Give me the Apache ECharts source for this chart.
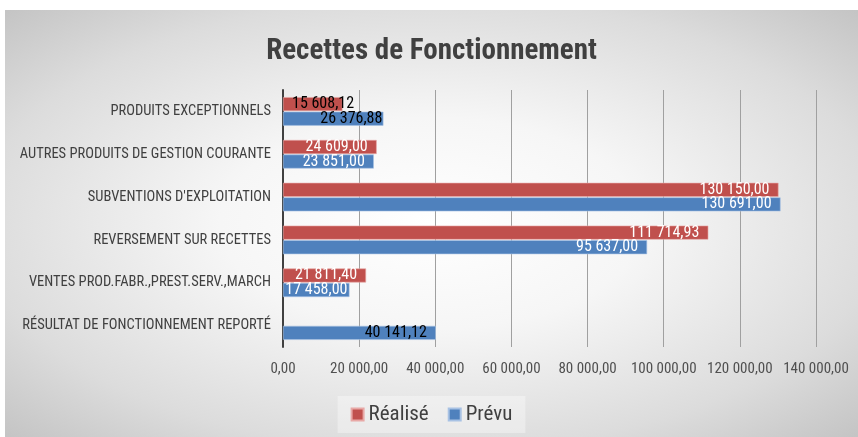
<!DOCTYPE html>
<html>
<head>
<meta charset="utf-8">
<script src="https://cdn.jsdelivr.net/npm/echarts@6/dist/echarts.min.js"></script>
<style>
  html, body { margin: 0; padding: 0; background: #fff; }
  #chart {
    position: absolute;
    left: 5px;
    top: 10px;
    width: 853px;
    height: 427px;
    background: radial-gradient(ellipse at 50% 50%, #ffffff 0%, #f6f6f6 35%, #dcdcdc 75%, #c4c4c4 100%);
  }
</style>
</head>
<body>
<div id="chart"></div>
<script>
// categories, top to bottom
const categories = [
  'PRODUITS EXCEPTIONNELS',
  'AUTRES PRODUITS DE GESTION COURANTE',
  "SUBVENTIONS D'EXPLOITATION",
  'REVERSEMENT SUR RECETTES',
  'VENTES PROD.FABR.,PREST.SERV.,MARCH',
  'RÉSULTAT DE FONCTIONNEMENT REPORTÉ'
]
const realise = [15608.12, 24609.00, 130150.00, 111714.93, 21811.40, null]
const prevu = [26376.88, 23851.00, 130691.00, 95637.00, 17458.00, 40141.12]
// labels drawn in dark text
const realiseDark = [true, false, false, false, false, false]
const prevuDark = [true, false, false, false, false, true]

const font = '"Roboto Condensed", "Liberation Sans Narrow", sans-serif'

function frNum(v) {
  let s = Number(v).toFixed(2)
  let parts = s.split('.')
  parts[0] = parts[0].replace(/\B(?=(\d{3})+(?!\d))/g, ' ')
  return parts[0] + ',' + parts[1]
}

function mkData(vals, dark) {
  return vals.map(function (v, i) {
    if (v === null) return null
    let item = { value: v, label: {} }
    if (dark[i]) item.label.color = '#000000'
    // first row labels sit tight against the bar end
    if (i === 0) item.label.distance = 1
    // short bars: label hugs the bar end
    if (v < 20000) {
      item.label.distance = 2
      if (dark[i]) {
        item.label.position = 'insideLeft'
        item.label.distance = 9
      }
    }
    return item
  })
}

const barLabel = {
  show: true,
  position: 'insideRight',
  distance: 9,
  color: '#ffffff',
  fontFamily: font,
  fontSize: 16,
  formatter: function (p) { return frNum(p.value) }
}

let myChart = echarts.init(document.getElementById('chart'))
let option = {
  backgroundColor: 'transparent',
  animation: false,
  title: {
    text: 'Recettes de Fonctionnement',
    left: 'center',
    top: 22,
    textStyle: {
      fontFamily: font,
      fontSize: 29,
      fontWeight: 'bold',
      color: '#404040'
    }
  },
  legend: {
    data: ['Réalisé', 'Prévu'],
    bottom: 4,
    left: 'center',
    itemWidth: 12,
    itemHeight: 12,
    itemGap: 19,
    icon: 'rect',
    padding: [8, 13, 8, 13],
    backgroundColor: 'rgba(255,255,255,0.35)',
    textStyle: {
      fontFamily: font,
      fontSize: 21,
      color: '#404040'
    }
  },
  grid: {
    left: 278,
    right: 42,
    top: 80,
    bottom: 90,
    containLabel: false
  },
  xAxis: {
    type: 'value',
    min: 0,
    max: 140000,
    interval: 20000,
    axisLine: { show: false },
    axisTick: { show: false },
    splitLine: { lineStyle: { color: '#a0a0a0', width: 1 } },
    axisLabel: {
      margin: 15,
      fontFamily: font,
      fontSize: 15,
      color: '#505050',
      formatter: function (v) { return frNum(v) }
    }
  },
  yAxis: {
    type: 'category',
    inverse: true,
    data: categories,
    axisLine: { show: true, lineStyle: { color: '#404040', width: 2 } },
    axisTick: { show: false },
    axisLabel: {
      margin: 12,
      fontFamily: font,
      fontSize: 14.5,
      color: '#404040'
    }
  },
  series: [
    {
      name: 'Réalisé',
      type: 'bar',
      barWidth: 14,
      barGap: '4%',
      itemStyle: { color: '#c0504d', borderColor: '#e8a8a6', borderWidth: 0.6 },
      label: barLabel,
      data: mkData(realise, realiseDark)
    },
    {
      name: 'Prévu',
      type: 'bar',
      barWidth: 14,
      barGap: '4%',
      itemStyle: { color: '#4f81bd', borderColor: '#a8c2e4', borderWidth: 0.6 },
      label: barLabel,
      data: mkData(prevu, prevuDark)
    }
  ]
}
myChart.setOption(option, true)
</script>
</body>
</html>
